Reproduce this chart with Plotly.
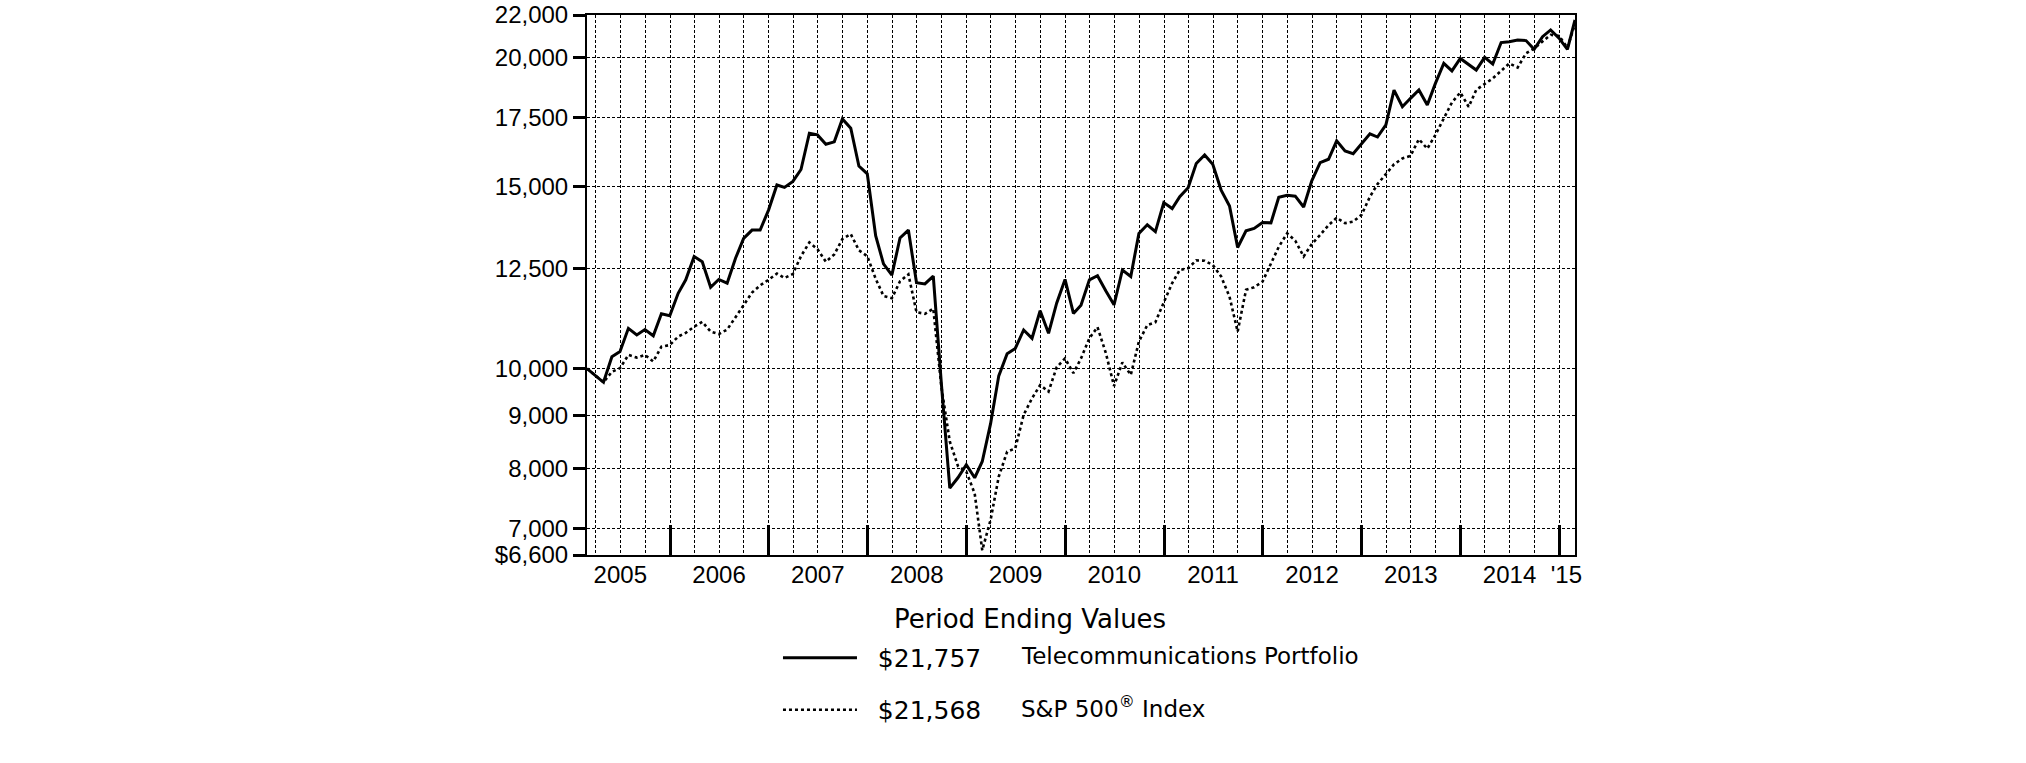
import calendar
import plotly.graph_objects as go

# ---- data -------------------------------------------------------------
# month-end dates, Feb 2005 .. Feb 2015
month_ends = []
_y, _m = 2005, 2
for _ in range(121):
    month_ends.append(f"{_y}-{_m:02d}-{calendar.monthrange(_y, _m)[1]:02d}")
    _m += 1
    if _m > 12:
        _m, _y = 1, _y + 1

telecom = [
    10000, 9840, 9700, 10270, 10390, 10940, 10780, 10910, 10760, 11300,
    11250, 11830, 12190, 12840, 12690, 11990, 12200, 12100, 12790, 13370,
    13620, 13620, 14240, 15060, 14980, 15180, 15590, 16900, 16840, 16490,
    16580, 17450, 17090, 15710, 15440, 13450, 12630, 12320, 13380, 13620,
    12110, 12080, 12290, 9660, 7660, 7840, 8070, 7840, 8130, 8850,
    9840, 10340, 10460, 10900, 10700, 11380, 10820, 11570, 12200, 11310,
    11520, 12190, 12300, 11890, 11530, 12460, 12280, 13520, 13780, 13570,
    14480, 14290, 14670, 14970, 15800, 16100, 15770, 14890, 14370, 13100,
    13600, 13670, 13850, 13840, 14650, 14720, 14690, 14340, 15200, 15830,
    15950, 16620, 16250, 16150, 16500, 16880, 16760, 17220, 18610, 17930,
    18270, 18610, 18000, 18890, 19750, 19420, 19970, 19680, 19460, 20020,
    19720, 20690, 20730, 20810, 20780, 20380, 20960, 21280, 20890, 20380,
    21757,
]

sp500 = [
    10000, 9850, 9700, 9930, 10010, 10310, 10250, 10310, 10160, 10500,
    10540, 10740, 10830, 10980, 11100, 10860, 10800, 10910, 11230, 11520,
    11850, 12040, 12190, 12360, 12240, 12350, 12850, 13250, 13050, 12690,
    12900, 13350, 13500, 13020, 12850, 12220, 11760, 11700, 12150, 12340,
    11340, 11300, 11430, 9600, 8500, 8050, 7950, 7570, 6670, 7140,
    7860, 8310, 8370, 9020, 9360, 9640, 9500, 10030, 10230, 9900,
    10230, 10700, 10970, 10350, 9620, 10140, 9860, 10620, 11020, 11090,
    11590, 12100, 12460, 12510, 12730, 12720, 12600, 12280, 11740, 10860,
    11920, 11990, 12140, 12650, 13120, 13520, 13300, 12840, 13200, 13470,
    13770, 14000, 13830, 13880, 14090, 14670, 15090, 15430, 15770, 15980,
    16070, 16680, 16330, 16840, 17470, 18100, 18510, 17930, 18620, 18850,
    19100, 19420, 19750, 19570, 20200, 20420, 20730, 21050, 21000, 20450,
    21568,
]

series_names = ["Telecommunications Portfolio", "S&P 500<sup>®</sup> Index"]
ending_labels = ["$21,757", "$21,568"]
legend_title = "Period Ending Values"

y_tickvals = [6600, 7000, 8000, 9000, 10000, 12500, 15000, 17500, 20000, 22000]
y_ticktext = ["$6,600", "7,000", "8,000", "9,000", "10,000", "12,500",
              "15,000", "17,500", "20,000", "22,000"]

year_bounds = [f"{yr}-01-01" for yr in range(2006, 2016)]
year_label_pos = [f"{yr}-07-01" for yr in range(2005, 2015)] + ["2015-01-27"]
year_labels = [str(yr) for yr in range(2005, 2015)] + ["'15"]

# ---- figure -----------------------------------------------------------
FONT = "Liberation Sans, Arial, sans-serif"
LEG_FONT = "DejaVu Sans, Liberation Sans, sans-serif"
NB = "\u00a0\u00a0"

fig = go.Figure()
fig.add_trace(go.Scatter(
    x=month_ends, y=sp500, mode="lines", name=NB + ending_labels[1],
    line=dict(color="black", width=2.6, dash="dot"),
    legend="legend2", xaxis="x", yaxis="y", hoverinfo="skip",
))
fig.add_trace(go.Scatter(
    x=month_ends, y=telecom, mode="lines", name=NB + ending_labels[0],
    line=dict(color="black", width=3),
    legend="legend", xaxis="x2", yaxis="y", hoverinfo="skip",
))

grid_dash = "3px,2px"
legend_common = dict(
    xanchor="left", yanchor="middle", itemwidth=74,
    font=dict(size=25, family=LEG_FONT, color="black"),
    bgcolor="rgba(0,0,0,0)", borderwidth=0,
)

fig.update_layout(
    width=2026, height=763, autosize=False,
    margin=dict(l=587, r=451, t=15, b=208, autoexpand=False),
    paper_bgcolor="white", plot_bgcolor="white",
    font=dict(family=FONT, color="black", size=24),
    xaxis=dict(
        type="date", range=[month_ends[0], month_ends[-1]],
        tickmode="array", tickvals=year_bounds, showticklabels=False,
        ticks="inside", ticklen=30, tickwidth=3, tickcolor="black",
        showgrid=True, gridcolor="black", gridwidth=1, griddash=grid_dash,
        minor=dict(dtick="M3", tick0="2005-01-01", showgrid=True,
                   gridcolor="black", gridwidth=1, griddash=grid_dash, ticks=""),
        showline=True, linecolor="black", linewidth=2, mirror=True,
        zeroline=False, fixedrange=True,
    ),
    xaxis2=dict(
        type="date", matches="x", overlaying="x", anchor="y", side="bottom",
        tickmode="array", tickvals=year_label_pos, ticktext=year_labels,
        ticks="", showgrid=False, showline=False, zeroline=False,
        ticklabelstandoff=3,
        tickfont=dict(size=24, family=FONT, color="black"),
    ),
    xaxis3=dict(
        type="date", matches="x", overlaying="x", anchor="y", side="bottom",
        tickmode="array", tickvals=year_bounds, showticklabels=False,
        ticks="outside", ticklen=4, tickwidth=3, tickcolor="black",
        showgrid=False, showline=False, zeroline=False,
    ),
    yaxis=dict(
        type="log", range=[3.81954, 4.34242],
        tickmode="array", tickvals=y_tickvals, ticktext=y_ticktext,
        ticks="outside", ticklen=12, tickwidth=3, tickcolor="black",
        tickfont=dict(size=24, family=FONT, color="black"),
        showgrid=True, gridcolor="black", gridwidth=1, griddash=grid_dash,
        showline=True, linecolor="black", linewidth=2, mirror=True,
        zeroline=False, fixedrange=True,
    ),
    legend=dict(x=0.1933, y=-0.1907, **legend_common),
    legend2=dict(x=0.1933, y=-0.2870, **legend_common),
    showlegend=True,
    annotations=[
        dict(text=legend_title, x=0.4484, y=-0.1185, xref="paper",
             yref="paper", xanchor="center", yanchor="middle",
             showarrow=False, font=dict(size=26, family=LEG_FONT, color="black")),
        dict(text=series_names[0], x=0.4372, y=-0.1870, xref="paper",
             yref="paper", xanchor="left", yanchor="middle",
             showarrow=False, font=dict(size=23, family=LEG_FONT, color="black")),
        dict(text=series_names[1], x=0.4372, y=-0.2806, xref="paper",
             yref="paper", xanchor="left", yanchor="middle",
             showarrow=False, font=dict(size=23, family=LEG_FONT, color="black")),
    ],
)

fig.write_html("out.html", config={"displayModeBar": False},
               post_script="document.body.style.margin='0px';")
